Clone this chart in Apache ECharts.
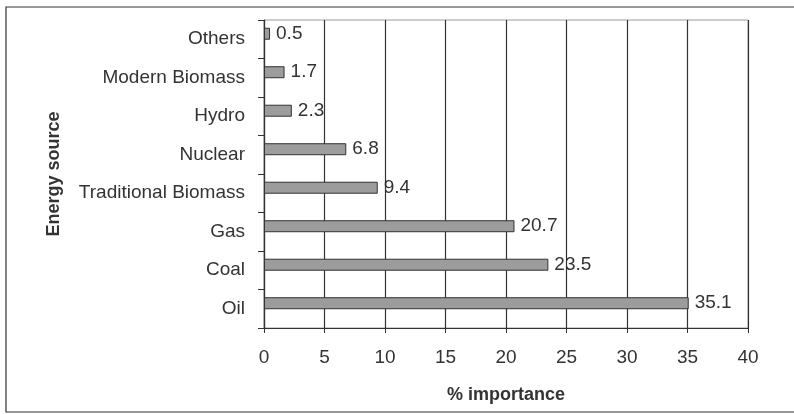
<!DOCTYPE html>
<html>
<head>
<meta charset="utf-8">
<script src="https://cdn.jsdelivr.net/npm/echarts@6/dist/echarts.min.js"></script>
<style>
  html, body { margin: 0; padding: 0; background: #fff; }
  #chart { width: 794px; height: 414px; }
</style>
</head>
<body>
<div id="chart"></div>
<script>
// Energy sources, bottom to top as drawn on the category axis
const categories = ['Oil', 'Coal', 'Gas', 'Traditional Biomass', 'Nuclear', 'Hydro', 'Modern Biomass', 'Others'];
const importance = [35.1, 23.5, 20.7, 9.4, 6.8, 2.3, 1.7, 0.5];
const xTicks = { min: 0, max: 40, interval: 5 };

const font = 'Arial, "Liberation Sans", sans-serif';
const chart = echarts.init(document.getElementById('chart'), null, { renderer: 'canvas' });

chart.setOption({
  backgroundColor: '#ffffff',
  animation: false,
  graphic: [
    {
      type: 'rect',
      silent: true,
      shape: { x: 6, y: 7, width: 800, height: 405 },
      style: { fill: 'none', stroke: '#333', lineWidth: 1.2 }
    }
  ],
  grid: {
    left: 264, top: 20, width: 484, height: 308,
    show: true, borderColor: '#9a9a9a', borderWidth: 1, backgroundColor: 'transparent'
  },
  xAxis: {
    type: 'value',
    min: xTicks.min, max: xTicks.max, interval: xTicks.interval,
    name: '% importance',
    nameLocation: 'middle',
    nameGap: 58,
    nameTextStyle: { fontFamily: font, fontSize: 18, fontWeight: 'bold', color: '#333' },
    axisLine: { show: true, lineStyle: { color: '#333', width: 1.2 } },
    axisTick: { show: true, length: 5, lineStyle: { color: '#333' } },
    axisLabel: { fontFamily: font, fontSize: 19, color: '#333', margin: 20 },
    splitLine: { show: true, lineStyle: { color: '#333', width: 1.2 } }
  },
  yAxis: {
    type: 'category',
    data: categories,
    name: 'Energy source',
    nameLocation: 'middle',
    nameGap: 201,
    nameRotate: 90,
    nameTextStyle: { fontFamily: font, fontSize: 18, fontWeight: 'bold', color: '#333' },
    axisLine: { show: true, lineStyle: { color: '#333', width: 1.2 } },
    axisTick: { show: true, length: 6, alignWithLabel: false, lineStyle: { color: '#333' } },
    axisLabel: { fontFamily: font, fontSize: 19, color: '#333', margin: 19 },
    splitLine: { show: false }
  },
  series: [
    {
      type: 'bar',
      data: importance,
      barWidth: 12,
      barGap: '-8%',
      itemStyle: { color: '#9c9c9c', borderColor: '#333', borderWidth: 1 },
      label: {
        show: true,
        position: 'right',
        distance: 6,
        fontFamily: font,
        fontSize: 19,
        color: '#333'
      }
    },
    {
      // empty companion slot: pushes the drawn bars slightly above the band centre
      type: 'bar',
      data: categories.map(() => '-'),
      barWidth: 12,
      barGap: '-8%',
      silent: true
    }
  ]
});
</script>
</body>
</html>
